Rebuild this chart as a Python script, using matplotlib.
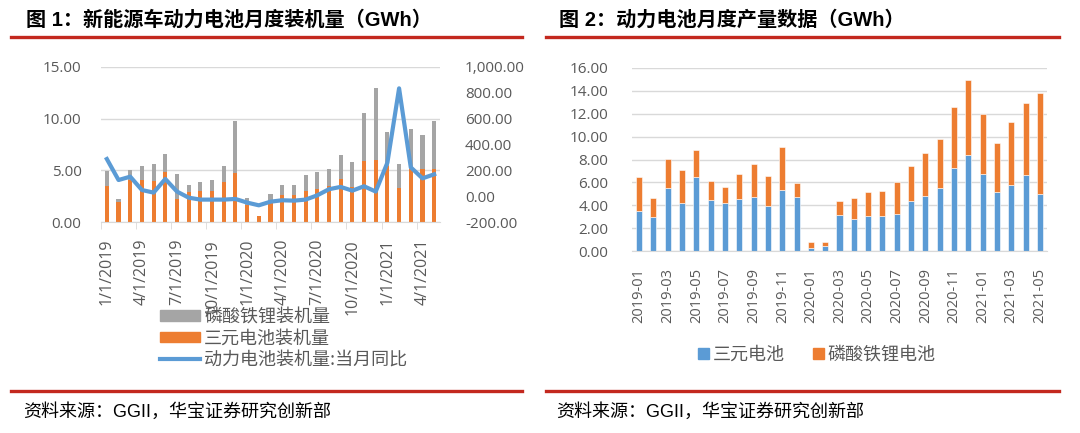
import matplotlib
matplotlib.use("Agg")
import matplotlib.pyplot as plt
from matplotlib.patches import Patch
from matplotlib.lines import Line2D
import numpy as np

plt.rcParams['font.family'] = ['Noto Sans CJK SC', 'DejaVu Sans']

# ---------------- data ----------------
left_ticklabels = ["1/1/2019", "4/1/2019", "7/1/2019", "10/1/2019", "1/1/2020",
                   "4/1/2020", "7/1/2020", "10/1/2020", "1/1/2021", "4/1/2021"]
ncm_install = [3.54, 1.93, 4.08, 4.08, 3.99, 4.82, 2.25, 2.96, 3.02, 3.02, 3.92, 4.73,
               1.67, 0.58, 1.83, 2.67, 2.67, 2.99, 3.18, 3.50, 4.18, 3.44, 5.92, 5.98,
               5.47, 3.34, 5.14, 5.18, 5.18]
lfp_install = [1.44, 0.32, 1.00, 1.32, 1.67, 1.77, 2.44, 0.67, 0.90, 1.06, 1.48, 5.01,
               0.65, 0.06, 0.90, 0.93, 0.93, 1.61, 1.71, 1.61, 2.32, 2.38, 4.66, 6.92,
               3.21, 2.26, 3.86, 3.21, 4.59]
yoy_install = [288, 126, 152, 49, 29, 134, 37, -10, -25, -25, -25, -20,
               -48, -69, -41, -30, -33, -25, 8, 55, 73, 44, 78, 37,
               260, 833, 224, 139, 170]

right_months = ["2019-01", "2019-02", "2019-03", "2019-04", "2019-05", "2019-06",
                "2019-07", "2019-08", "2019-09", "2019-10", "2019-11", "2019-12",
                "2020-01", "2020-02", "2020-03", "2020-04", "2020-05", "2020-06",
                "2020-07", "2020-08", "2020-09", "2020-10", "2020-11", "2020-12",
                "2021-01", "2021-02", "2021-03", "2021-04", "2021-05"]
ncm_prod = [3.51, 3.02, 5.55, 4.24, 6.50, 4.50, 4.24, 4.53, 4.70, 3.92, 5.37, 4.73,
            0.32, 0.49, 3.19, 2.79, 3.05, 3.05, 3.28, 4.38, 4.79, 5.49, 7.26, 8.42,
            6.77, 5.14, 5.78, 6.65, 4.97]
lfp_prod = [2.96, 1.65, 2.46, 2.87, 2.30, 1.66, 1.39, 2.21, 2.94, 2.67, 3.69, 1.22,
            0.46, 0.32, 1.19, 1.88, 2.09, 2.21, 2.76, 3.02, 3.80, 4.30, 5.34, 6.50,
            5.22, 4.27, 5.46, 6.24, 8.79]

# ---------------- style ----------------
GRAY = '#A5A5A5'
ORANGE = '#ED7D31'
BLUE = '#5B9BD5'
TICK = '#595959'
GRID = '#D9D9D9'
RED = '#C3281E'
NUMFONT = ['Open Sans', 'DejaVu Sans']
MIXFONT = ['Liberation Sans', 'Noto Sans CJK SC']

W, H = 1080, 433
fig = plt.figure(figsize=(W / 100, H / 100), dpi=100)
fig.patch.set_facecolor('white')


def rect(x0, y0, x1, y1):
    return [x0 / W, 1 - y1 / H, (x1 - x0) / W, (y1 - y0) / H]


# ---------------- left chart ----------------
ax = fig.add_axes(rect(101, 66.7, 440, 222.3))
x = np.arange(len(ncm_install))
ax.bar(x, ncm_install, width=0.35, color=ORANGE, zorder=2)
ax.bar(x, lfp_install, width=0.35, bottom=ncm_install, color=GRAY, zorder=2)
ax.set_xlim(-0.5, len(x) - 0.5)
ax.set_ylim(0, 15)
ax.set_yticks([0, 5, 10, 15])
ax.set_yticklabels([f"{v:.2f}" for v in [0, 5, 10, 15]])
ax.yaxis.grid(True, color=GRID, lw=1)
ax.set_axisbelow(True)
for s in ['top', 'right', 'left']:
    ax.spines[s].set_visible(False)
ax.spines['bottom'].set_color(GRID)
ax.tick_params(axis='y', length=0, pad=14, labelcolor=TICK, labelsize=11)
ax.set_xticks(x[::3])
ax.set_xticklabels(left_ticklabels, rotation=90, va='top', ha='center')
ax.tick_params(axis='x', length=0, pad=12, labelcolor=TICK, labelsize=11.5)
ax.set_xticks(np.arange(-0.5, len(x), 3), minor=True)
ax.tick_params(axis='x', which='minor', length=5, color=GRID)
for lab in ax.get_xticklabels() + ax.get_yticklabels():
    lab.set_family(NUMFONT)

ax2 = ax.twinx()
ax2.plot(x, yoy_install, color=BLUE, lw=3, zorder=3, solid_joinstyle='round')
ax2.set_ylim(-200, 1000)
ax2.set_yticks(np.arange(-200, 1001, 200))
ax2.set_yticklabels([f"{v:,.2f}" for v in np.arange(-200, 1001, 200)])
for s in ['top', 'right', 'left', 'bottom']:
    ax2.spines[s].set_visible(False)
ax2.tick_params(axis='y', length=0, pad=18, labelcolor=TICK, labelsize=11)
for lab in ax2.get_yticklabels():
    lab.set_family(NUMFONT)

handles = [Patch(color=GRAY), Patch(color=ORANGE), Line2D([], [], color=BLUE, lw=3)]
fig.legend(handles, ["磷酸铁锂装机量", "三元电池装机量", "动力电池装机量:当月同比"],
           loc='upper left', bbox_to_anchor=(160 / W, 1 - 308 / H), frameon=False,
           fontsize=13, labelspacing=0.2, handlelength=2.2, handleheight=0.5,
           handletextpad=0.25, borderpad=0, borderaxespad=0, labelcolor=TICK)

# ---------------- right chart ----------------
bx = fig.add_axes(rect(632, 67.7, 1047, 251.3))
xr = np.arange(len(ncm_prod))
bx.bar(xr, ncm_prod, width=0.42, color=BLUE, edgecolor='white', lw=0.4, zorder=2)
bx.bar(xr, lfp_prod, width=0.42, bottom=ncm_prod, color=ORANGE, edgecolor='white',
       lw=0.4, zorder=2)
bx.set_xlim(-0.5, len(xr) - 0.5)
bx.set_ylim(0, 16)
bx.set_yticks(np.arange(0, 17, 2))
bx.set_yticklabels([f"{v:.2f}" for v in np.arange(0, 17, 2)])
bx.yaxis.grid(True, color=GRID, lw=1)
bx.set_axisbelow(True)
for s in ['top', 'right', 'left']:
    bx.spines[s].set_visible(False)
bx.spines['bottom'].set_color(GRID)
bx.tick_params(axis='y', length=0, pad=17, labelcolor=TICK, labelsize=11)
bx.set_xticks(xr[::2])
bx.set_xticklabels(right_months[::2], rotation=90, va='top', ha='center')
bx.tick_params(axis='x', length=0, pad=12, labelcolor=TICK, labelsize=10.5)
for lab in bx.get_xticklabels() + bx.get_yticklabels():
    lab.set_family(NUMFONT)

handles_r = [Patch(color=BLUE), Patch(color=ORANGE)]
fig.legend(handles_r, ["三元电池", "磷酸铁锂电池"], loc='center left',
           bbox_to_anchor=(698 / W, 1 - 355 / H), frameon=False, ncol=2,
           fontsize=13, handlelength=0.6, handleheight=0.6, handletextpad=0.2,
           columnspacing=1.6, borderpad=0, borderaxespad=0, labelcolor=TICK)

# ---------------- titles, rules, sources ----------------
for (x0, x1, tx, title) in [(11, 522, 26, "图 1：新能源车动力电池月度装机量（GWh）"),
                            (546, 1059, 559, "图 2：动力电池月度产量数据（GWh）")]:
    fig.add_artist(Line2D([x0 / W, x1 / W], [1 - 37 / H, 1 - 37 / H], color=RED, lw=2.4))
    fig.add_artist(Line2D([x0 / W, x1 / W], [1 - 391 / H, 1 - 391 / H], color=RED, lw=2.4))
    fig.text(tx / W, 1 - 20 / H, title, fontsize=14.5, fontweight='bold',
             ha='left', va='center', color='black', family=MIXFONT)
    fig.text((tx - 3) / W, 1 - 412 / H, "资料来源：GGII，华宝证券研究创新部", fontsize=13,
             ha='left', va='center', color='black', family=MIXFONT)

fig.savefig("out.png", dpi=100, facecolor='white')
